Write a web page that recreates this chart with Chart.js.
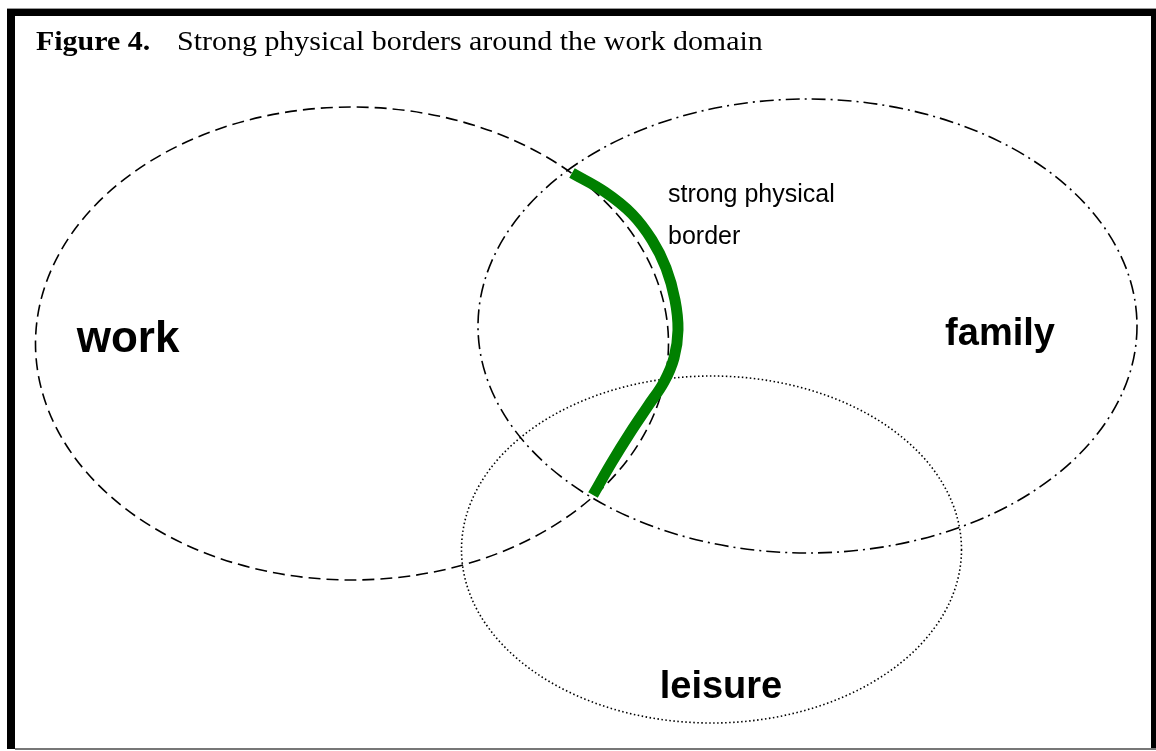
<!DOCTYPE html>
<html>
<head>
<meta charset="utf-8">
<script src="https://cdn.jsdelivr.net/npm/chart.js@4/dist/chart.umd.min.js"></script>
<style>
  html, body { margin: 0; padding: 0; background: #fff; }
  canvas { display: block; }
</style>
</head>
<body>
<canvas id="chart" width="1156" height="751"></canvas>
<script>
// domains (ellipses), in figure units (x right, y down)
var domainNames = ['work', 'family', 'leisure'];
var domainCx = [352, 807.5, 711.5];
var domainCy = [343.5, 326, 549.5];
var domainRx = [316.5, 329.5, 250];
var domainRy = [236.5, 227, 173.5];

// domain labels
var labelX = [128, 1000, 721];
var labelY = [352, 345, 698];
var labelSize = [44, 38, 38];

// the strong physical border (green curve), read top to bottom
var borderX = [572, 605, 632, 652, 666, 675, 678, 674, 664, 648, 630, 612, 593];
var borderY = [173, 192, 214, 240, 268, 300, 330, 358, 382, 406, 433, 462, 495];

var noteLines = ['strong physical', 'border'];
var noteX = 668;
var noteY = [202, 244];

var figureTag = 'Figure 4.';
var figureTitle = 'Strong physical borders around the work domain';

var dashes = [[12, 6], [14, 5, 2, 5], [1.5, 2.5]];

var figurePlugin = {
    id: 'figure',
    beforeDraw: function(chart) {
        var ctx = chart.ctx;
        ctx.save();
        ctx.fillStyle = '#fff';
        ctx.fillRect(0, 0, chart.width, chart.height);
        // frame
        ctx.fillStyle = '#999';
        ctx.fillRect(7, 8, 1149, 1);
        ctx.fillStyle = '#000';
        ctx.fillRect(7, 9, 8, 740);
        ctx.fillRect(7, 9, 1149, 7);
        ctx.fillRect(1151, 9, 5, 740);
        ctx.fillStyle = '#777';
        ctx.fillRect(15, 748, 1141, 2);
        ctx.restore();
    },
    beforeDatasetsDraw: function(chart) {
        var ctx = chart.ctx,
            xs = chart.scales.x,
            ys = chart.scales.y;
        ctx.save();
        ctx.strokeStyle = '#000';
        ctx.lineWidth = 1.6;
        domainNames.forEach(function(name, i) {
            var cx = xs.getPixelForValue(domainCx[i]),
                cy = ys.getPixelForValue(domainCy[i]),
                rx = Math.abs(xs.getPixelForValue(domainCx[i] + domainRx[i]) - cx),
                ry = Math.abs(ys.getPixelForValue(domainCy[i] + domainRy[i]) - cy);
            ctx.setLineDash(dashes[i]);
            ctx.beginPath();
            ctx.ellipse(cx, cy, rx, ry, 0, 0, Math.PI * 2);
            ctx.stroke();
        });
        ctx.restore();
    },
    afterDraw: function(chart) {
        var ctx = chart.ctx,
            xs = chart.scales.x,
            ys = chart.scales.y;
        ctx.save();
        ctx.fillStyle = '#000';
        ctx.textBaseline = 'alphabetic';

        // title (the scan is a bit wider than the font)
        ctx.save();
        ctx.translate(36, 50);
        ctx.scale(1.07, 1);
        ctx.textAlign = 'left';
        ctx.font = 'bold 28px "Liberation Serif", "Times New Roman", serif';
        ctx.fillText(figureTag, 0, 0);
        ctx.font = '28px "Liberation Serif", "Times New Roman", serif';
        ctx.fillText(figureTitle, (177 - 36) / 1.07, 0);
        ctx.restore();

        // domain labels
        ctx.textAlign = 'center';
        domainNames.forEach(function(name, i) {
            ctx.font = 'bold ' + labelSize[i] + 'px "Liberation Sans", Arial, sans-serif';
            ctx.fillText(name, xs.getPixelForValue(labelX[i]), ys.getPixelForValue(labelY[i]));
        });

        // note
        ctx.textAlign = 'left';
        ctx.font = '25px "Liberation Sans", Arial, sans-serif';
        noteLines.forEach(function(line, i) {
            ctx.fillText(line, xs.getPixelForValue(noteX), ys.getPixelForValue(noteY[i]));
        });
        ctx.restore();
    }
};

var chart = new Chart(document.getElementById('chart'), {
    type: 'scatter',
    data: {
        datasets: [{
            label: 'strong physical border',
            data: borderX.map(function(x, i) {
                return { x: x, y: borderY[i] };
            }),
            showLine: true,
            borderColor: '#008000',
            backgroundColor: '#008000',
            borderWidth: 11,
            borderCapStyle: 'butt',
            borderJoinStyle: 'round',
            tension: 0.4,
            pointRadius: 0,
            fill: false
        }]
    },
    options: {
        responsive: false,
        animation: false,
        layout: { padding: 0 },
        plugins: {
            legend: { display: false },
            tooltip: { enabled: false },
            title: { display: false }
        },
        scales: {
            x: { type: 'linear', min: 0, max: 1156, display: false },
            y: { type: 'linear', min: 0, max: 751, reverse: true, display: false }
        }
    },
    plugins: [figurePlugin]
});
</script>
</body>
</html>
